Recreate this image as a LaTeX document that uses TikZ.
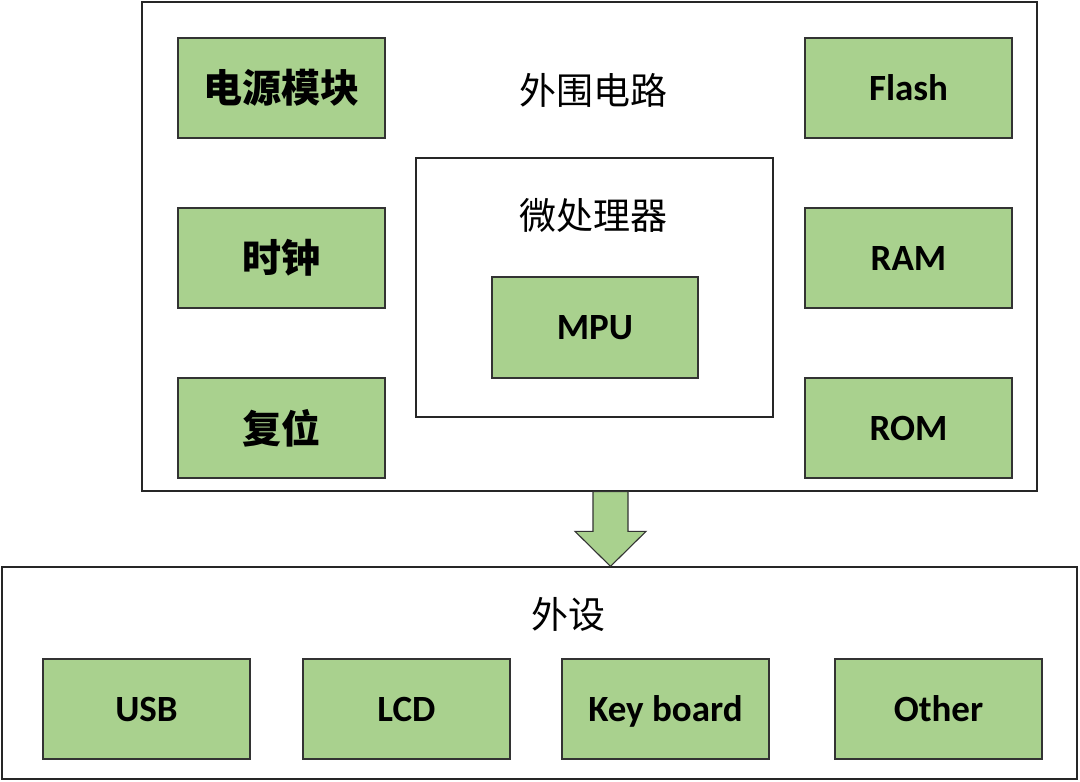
\documentclass[tikz,border=0pt]{standalone}
\usepackage{fontspec}
\setmainfont{Carlito}
\newfontfamily\cjk{Noto Sans CJK SC}
\usepackage{tikz}
\usetikzlibrary{positioning, calc}

\definecolor{blkgreen}{HTML}{A9D18E}

\tikzset{
  frame/.style={draw=black!85, line width=1.3pt, inner sep=0pt},
  blk/.style={draw=black!80, line width=1.1pt, fill=blkgreen, inner sep=0pt,
    minimum width=207pt, minimum height=100pt, text height=24.5pt, text depth=0pt,
    font=\fontsize{37}{40}\selectfont\bfseries},
  cjkblk/.style={blk, text height=, text depth=, font=\fontsize{39}{42}\selectfont\cjk\bfseries},
  title/.style={font=\fontsize{37}{42}\selectfont\cjk}
}

\begin{document}
\begin{tikzpicture}[x=1pt,y=-1pt]
  \useasboundingbox (0,0) rectangle (1080,782);
  % frames
  \node[frame, minimum width=895pt, minimum height=489pt] (outer) at (589.5,246.5) {};
  \node[frame, minimum width=357pt, minimum height=259pt] (cpu) at (594.5,287.5) {};
  \node[frame, minimum width=1075pt, minimum height=212pt] (dev) at (539.5,673) {};
  % labels
  \node[title] (tperi) at (593,90) {外围电路};
  \node[title] (tcpu) at (593,215) {微处理器};
  \node[title] (tdev) at (568,614) {外设};
  % left column
  \node[cjkblk] (power) at (281.5,88) {电源模块};
  \node[cjkblk] (clock) at (281.5,258) {时钟};
  \node[cjkblk] (reset) at (281.5,428) {复位};
  % right column
  \node[blk] (flash) at (908.5,88) {Flash};
  \node[blk] (ram) at (908.5,258) {RAM};
  \node[blk] (rom) at (908.5,428) {ROM};
  % processor
  \node[blk, minimum width=206pt, minimum height=101pt] (mpu) at (595,327.5) {MPU};
  % peripherals
  \node[blk] (usb) at (146.5,709) {USB};
  \node[blk] (lcd) at (406.5,709) {LCD};
  \node[blk] (key) at (665.5,709) {Key board};
  \node[blk] (other) at (938.5,709) {Other};
  % arrow
  \coordinate (atop) at ($(outer.south)+(21,0)$);
  \coordinate (atip) at ($(dev.north)+(71,0)$);
  \draw[draw=black!80, line width=1.1pt, fill=blkgreen, line join=miter]
    ($(atop)+(-17.5,0)$) -- ($(atop)+(17.5,0)$) -- ($(atip)+(17.5,-35)$) -- ($(atip)+(35.5,-35)$)
    -- (atip) -- ($(atip)+(-35.5,-35)$) -- ($(atip)+(-17.5,-35)$) -- cycle;
\end{tikzpicture}
\end{document}
